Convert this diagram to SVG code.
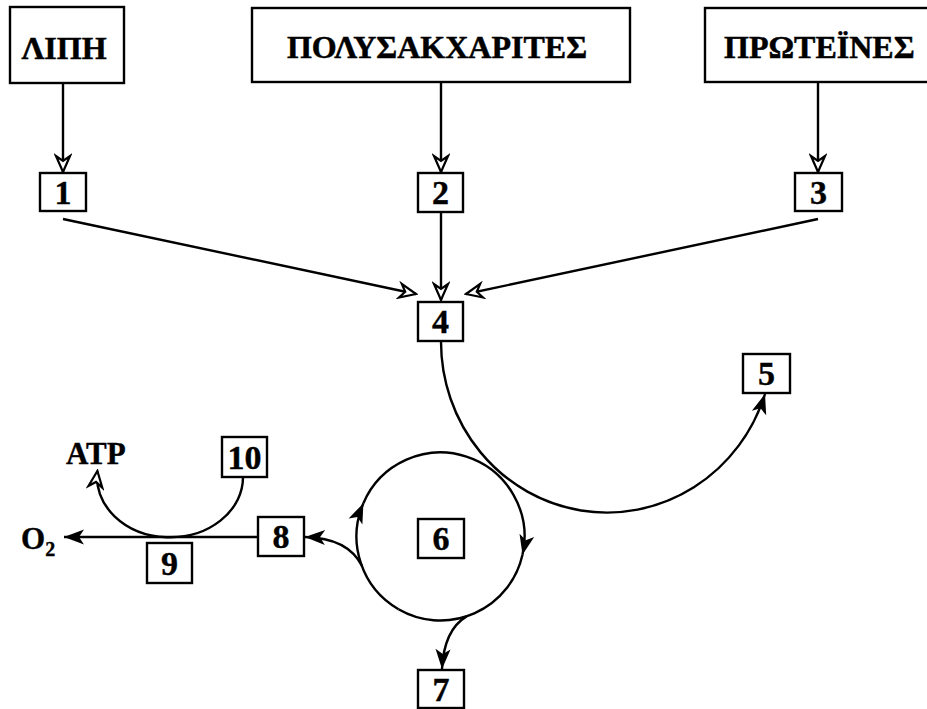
<svg xmlns="http://www.w3.org/2000/svg" width="927" height="709" viewBox="0 0 927 709">
<style>
.box{fill:#fff;stroke:#000;stroke-width:2.4}
.big{font-family:"Liberation Serif","Times New Roman",serif;font-weight:bold;font-size:32px;fill:#000;stroke:#000;stroke-width:0.5}
.num{font-family:"Liberation Serif","Times New Roman",serif;font-weight:bold;font-size:34px;fill:#000;text-anchor:middle;stroke:#000;stroke-width:0.4}
.lbl{font-family:"Liberation Serif","Times New Roman",serif;font-weight:bold;font-size:31px;fill:#000;stroke:#000;stroke-width:0.4}
.ln{fill:none;stroke:#000;stroke-width:2.4}
.op{marker-end:url(#open)}
.fl{marker-end:url(#filled)}
</style>
<defs>
<marker id="open" viewBox="-19 -9 21 18" refX="0" refY="0" markerWidth="21" markerHeight="18" markerUnits="userSpaceOnUse" orient="auto">
<path d="M-16,-7 L0,0 L-16,7 L-11,0 Z" fill="#fff" stroke="#000" stroke-width="2.2" stroke-linejoin="miter"/>
</marker>
<marker id="filled" viewBox="-21 -9 22 18" refX="0" refY="0" markerWidth="22" markerHeight="18" markerUnits="userSpaceOnUse" orient="auto">
<path d="M-20,-7.5 L0,0 L-20,7.5 L-15,0 Z" fill="#000"/>
</marker>
</defs>
<rect width="927" height="709" fill="#fff"/>

<g id="connectors">
<line class="ln op" x1="63" y1="83" x2="63" y2="172"/>
<line class="ln op" x1="441" y1="83" x2="441" y2="172"/>
<line class="ln op" x1="818" y1="83" x2="818" y2="172"/>
<line class="ln op" x1="441" y1="212" x2="441" y2="300"/>
<line class="ln op" x1="63" y1="219" x2="416" y2="294"/>
<line class="ln op" x1="818" y1="219" x2="466" y2="294"/>
<path class="ln fl" d="M441,341 A166,171 0 0,0 765,394"/>
<path class="ln fl" d="M398.5,609.2 A84,84 0 0,1 363.4,503.2"/>
<path class="ln fl" d="M363.4,503.2 A84,84 0 0,1 522.5,554.8"/>
<path class="ln" d="M522.5,554.8 A84,84 0 0,1 398.5,609.2"/>
<path class="ln fl" d="M362,566 Q348,538 305,537"/>
<path class="ln fl" d="M466.5,616.4 Q444,630 442,669"/>
<line class="ln fl" x1="258" y1="537" x2="64" y2="537"/>
<path class="ln op" d="M243,477 A73,60 0 1,1 97.4,471"/>
</g>

<g id="lipi"><rect class="box" x="10" y="7" width="114" height="76"/><text class="big" x="64" y="59" text-anchor="middle">ΛΙΠΗ</text></g>
<g id="polysakcharites"><rect class="box" x="252" y="8" width="378" height="74"/><text class="big" x="437" y="58" text-anchor="middle">ΠΟΛΥΣΑΚΧΑΡΙΤΕΣ</text></g>
<g id="proteines"><rect class="box" x="705" y="8" width="235" height="74"/><text class="big" x="724" y="58">ΠΡΩΤΕΪΝΕΣ</text></g>

<g id="n1"><rect class="box" x="40" y="173" width="46" height="38"/><text class="num" x="63" y="204">1</text></g>
<g id="n2"><rect class="box" x="418" y="173" width="45" height="39"/><text class="num" x="440.5" y="204">2</text></g>
<g id="n3"><rect class="box" x="795" y="173" width="47" height="38"/><text class="num" x="818.5" y="204">3</text></g>
<g id="n4"><rect class="box" x="418" y="302" width="45" height="39"/><text class="num" x="440.5" y="333">4</text></g>
<g id="n5"><rect class="box" x="743" y="354" width="47" height="39"/><text class="num" x="766.5" y="385">5</text></g>
<g id="n6"><rect class="box" x="418" y="519" width="46" height="39"/><text class="num" x="441" y="550">6</text></g>
<g id="n7"><rect class="box" x="418" y="670" width="46" height="38"/><text class="num" x="441" y="701">7</text></g>
<g id="n8"><rect class="box" x="258" y="517" width="46" height="39"/><text class="num" x="281" y="548">8</text></g>
<g id="n9"><rect class="box" x="147" y="543" width="45" height="40"/><text class="num" x="169.5" y="575">9</text></g>
<g id="n10"><rect class="box" x="222" y="437" width="45" height="40"/><text class="num" x="244.5" y="469">10</text></g>

<g id="atp"><text class="lbl" x="66" y="464">ATP</text></g>
<g id="o2"><text class="lbl" x="21" y="549" font-size="33">O<tspan font-size="20" dy="7">2</tspan></text></g>
</svg>
